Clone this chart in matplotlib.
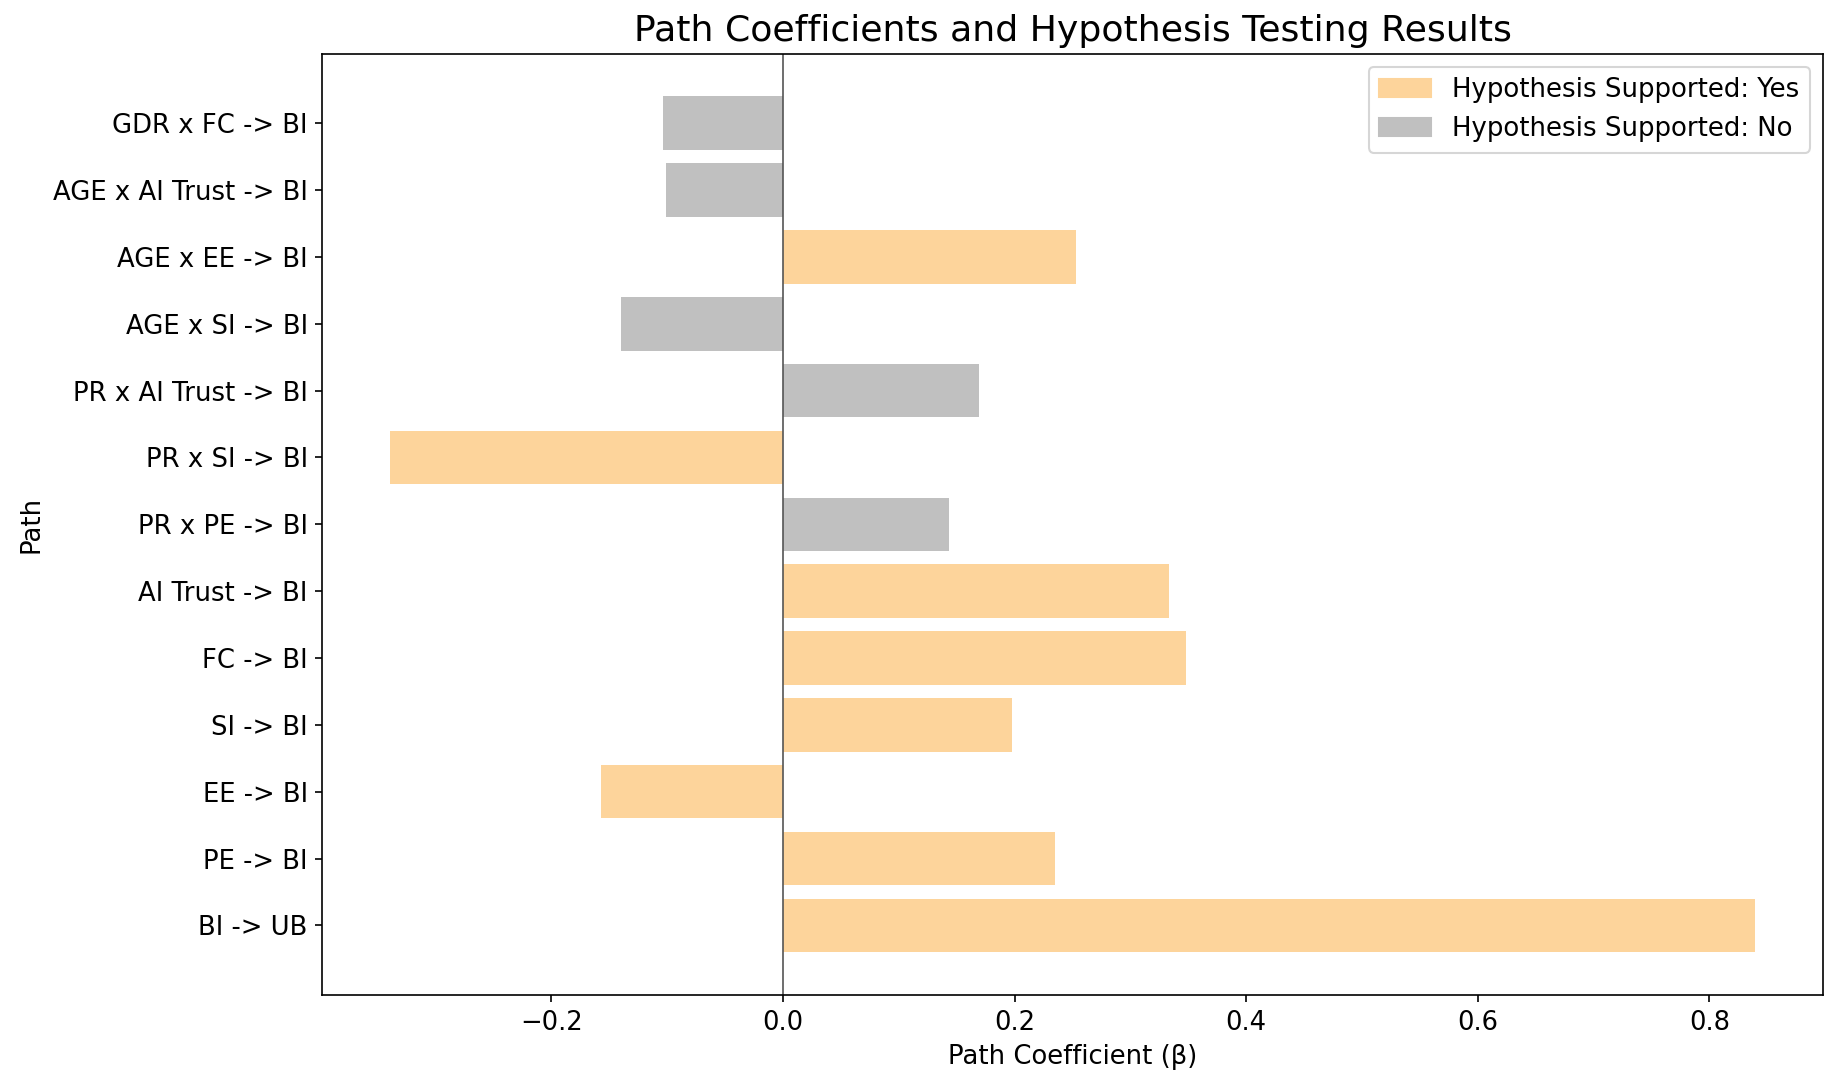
import matplotlib
matplotlib.use("Agg")
import matplotlib.pyplot as plt
import matplotlib.patches as ptch

# Пути (снизу вверх), коэффициенты и поддержка гипотез
paths = ['BI -> UB', 'PE -> BI', 'EE -> BI', 'SI -> BI', 'FC -> BI',
         'AI Trust -> BI', 'PR x PE -> BI', 'PR x SI -> BI',
         'PR x AI Trust -> BI', 'AGE x SI -> BI', 'AGE x EE -> BI',
         'AGE x AI Trust -> BI', 'GDR x FC -> BI']
coefs = [0.839, 0.235, -0.157, 0.198, 0.348, 0.333, 0.143, -0.339,
         0.169, -0.140, 0.253, -0.101, -0.104]
supported = ['Yes', 'Yes', 'Yes', 'Yes', 'Yes', 'Yes', 'No', 'Yes',
             'No', 'No', 'Yes', 'No', 'No']

yes_color = '#FDD49B'
no_color = '#C0C0C0'
colors = [yes_color if s == 'Yes' else no_color for s in supported]

fig = plt.figure(figsize=(1831 / 150, 1085 / 150), dpi=150)
ax = fig.add_subplot(111)
fig.subplots_adjust(left=0.176, right=0.9955, top=0.9505, bottom=0.083)

ax.barh(paths, coefs, color=colors)
ax.axvline(x=0, color='#555555', linewidth=0.8)

ax.set_title('Path Coefficients and Hypothesis Testing Results', fontsize=17.4)
ax.set_xlabel('Path Coefficient (β)', fontsize=12.4)
ax.set_ylabel('Path', fontsize=12.4)
ax.tick_params(axis='both', labelsize=12.4)

handles = [ptch.Patch(color=yes_color, label='Hypothesis Supported: Yes'),
           ptch.Patch(color=no_color, label='Hypothesis Supported: No')]
ax.legend(handles=handles, loc='upper right', fontsize=12.5)

fig.savefig('out.png', dpi=150)
